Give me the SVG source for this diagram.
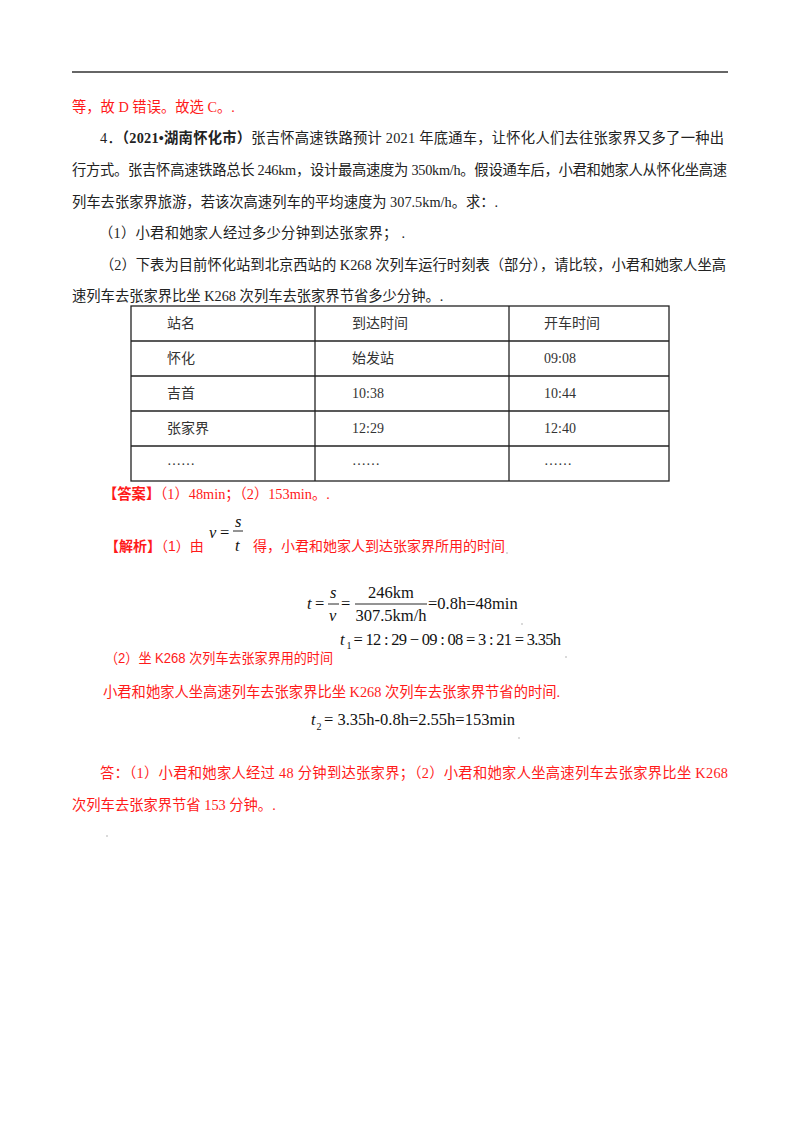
<svg xmlns="http://www.w3.org/2000/svg" width="800" height="1132" viewBox="0 0 800 1132">
<style>
.t{font-family:'Liberation Serif','Noto Sans CJK SC',serif;font-size:14.3px;fill:#222}
.r{font-family:'Liberation Serif','Noto Sans CJK SC',serif;font-size:14.3px;fill:#ff1a1a}
.rs{font-family:'Liberation Sans','Noto Sans CJK SC',sans-serif;font-size:14px;fill:#ff1a1a}
.tb{font-family:'Liberation Serif','Noto Sans CJK SC',serif;font-size:14px;fill:#333}
.m{font-family:'Liberation Serif','Times New Roman',serif;font-size:16.5px;fill:#111}
.mi{font-family:'Liberation Serif','Times New Roman',serif;font-size:16.5px;font-style:italic;fill:#111}
.it{font-style:italic}
.sb{font-size:10px}
.grid{stroke:#222;stroke-width:1.3;fill:none}
.bar{stroke:#111;stroke-width:0.9}
.dot{fill:#aaa}
</style>
<rect width="800" height="1132" fill="#fff"/>
<line x1="72" y1="72" x2="728" y2="72" stroke="#333" stroke-width="1.6"/>

<g id="prev">
<text class="r" x="72" y="112">等，故 D 错误。故选 C。.</text>
</g>

<g id="question">
<text class="t" x="100" y="143" textLength="624" lengthAdjust="spacing">4．<tspan font-weight="bold">（2021•湖南怀化市）</tspan>张吉怀高速铁路预计 2021 年底通车，让怀化人们去往张家界又多了一种出</text>
<text class="t" x="72" y="175" textLength="655" lengthAdjust="spacing">行方式。张吉怀高速铁路总长 246km，设计最高速度为 350km/h。假设通车后，小君和她家人从怀化坐高速</text>
<text class="t" x="72" y="207">列车去张家界旅游，若该次高速列车的平均速度为 307.5km/h。求：.</text>
<text class="t" x="99" y="238" textLength="306" lengthAdjust="spacing">（1）小君和她家人经过多少分钟到达张家界；  .</text>
<text class="t" x="100" y="270" textLength="626" lengthAdjust="spacing">（2）下表为目前怀化站到北京西站的 K268 次列车运行时刻表（部分），请比较，小君和她家人坐高</text>
<text class="t" x="72" y="301">速列车去张家界比坐 K268 次列车去张家界节省多少分钟。.</text>
</g>

<g id="table">
<rect class="grid" x="131" y="306" width="538" height="175"/>
<line class="grid" x1="315" y1="306" x2="315" y2="481"/>
<line class="grid" x1="509" y1="306" x2="509" y2="481"/>
<line class="grid" x1="131" y1="341" x2="669" y2="341"/>
<line class="grid" x1="131" y1="376" x2="669" y2="376"/>
<line class="grid" x1="131" y1="411" x2="669" y2="411"/>
<line class="grid" x1="131" y1="446" x2="669" y2="446"/>
<text class="tb" x="167" y="328">站名</text>
<text class="tb" x="352" y="328">到达时间</text>
<text class="tb" x="544" y="328">开车时间</text>
<text class="tb" x="167" y="363">怀化</text>
<text class="tb" x="352" y="363">始发站</text>
<text class="tb" x="544" y="363">09:08</text>
<text class="tb" x="167" y="398">吉首</text>
<text class="tb" x="352" y="398">10:38</text>
<text class="tb" x="544" y="398">10:44</text>
<text class="tb" x="167" y="433">张家界</text>
<text class="tb" x="352" y="433">12:29</text>
<text class="tb" x="544" y="433">12:40</text>
<text class="tb" x="167" y="465">……</text>
<text class="tb" x="352" y="465">……</text>
<text class="tb" x="544" y="465">……</text>
</g>

<g id="answer">
<text class="r" x="103" y="499"><tspan font-weight="bold">【答案】</tspan>（1）48min；（2）153min。.</text>
</g>

<g id="analysis1">
<text class="rs" x="105" y="551"><tspan font-weight="bold">【解析】</tspan>（1）由</text>
<text class="mi" x="209" y="538">v</text>
<text class="m" x="220" y="538">=</text>
<text class="mi" x="235" y="527">s</text>
<line class="bar" x1="233" y1="531" x2="243" y2="531"/>
<text class="mi" x="235" y="551">t</text>
<text class="rs" x="253" y="551">得，小君和她家人到达张家界所用的时间</text>
<circle class="dot" cx="507" cy="553" r="0.8"/>
</g>

<g id="formula1">
<text class="mi" x="307" y="609">t</text>
<text class="m" x="315" y="609">=</text>
<text class="mi" x="330" y="598">s</text>
<line class="bar" x1="328" y1="604" x2="339" y2="604"/>
<text class="mi" x="329" y="621">v</text>
<text class="m" x="341" y="609">=</text>
<text class="m" x="391" y="598" text-anchor="middle">246km</text>
<line class="bar" x1="355" y1="604" x2="427" y2="604"/>
<text class="m" x="391" y="621" text-anchor="middle">307.5km/h</text>
<text class="m" x="428" y="609">=0.8h=48min</text>
<circle class="dot" cx="522" cy="624" r="0.8"/>
</g>

<g id="analysis2">
<text class="rs" x="105" y="663" font-size="13.2" textLength="228" lengthAdjust="spacingAndGlyphs">（2）坐 K268 次列车去张家界用的时间</text>
<text class="m" y="645"><tspan class="it" x="340">t</tspan><tspan class="sb" x="346.5" y="648.5">1</tspan><tspan x="353.5" y="645" textLength="207.5" lengthAdjust="spacing">= 12 : 29 − 09 : 08 = 3 : 21 = 3.35h</tspan></text>
<circle class="dot" cx="566" cy="657" r="0.8"/>
</g>

<g id="analysis3">
<text class="r" x="103" y="697">小君和她家人坐高速列车去张家界比坐 K268 次列车去张家界节省的时间.</text>
<text class="m" y="725"><tspan class="it" x="311">t</tspan><tspan class="sb" x="316.5" y="729.5">2</tspan><tspan x="324" y="725">= 3.35h-0.8h=2.55h=153min</tspan></text>
<circle class="dot" cx="519" cy="738" r="0.8"/>
</g>

<g id="conclusion">
<text class="r" x="100" y="778" textLength="628" lengthAdjust="spacing">答：（1）小君和她家人经过 48 分钟到达张家界；（2）小君和她家人坐高速列车去张家界比坐 K268</text>
<text class="r" x="72" y="810">次列车去张家界节省 153 分钟。.</text>
<circle class="dot" cx="107" cy="836" r="0.8"/>
</g>
</svg>
